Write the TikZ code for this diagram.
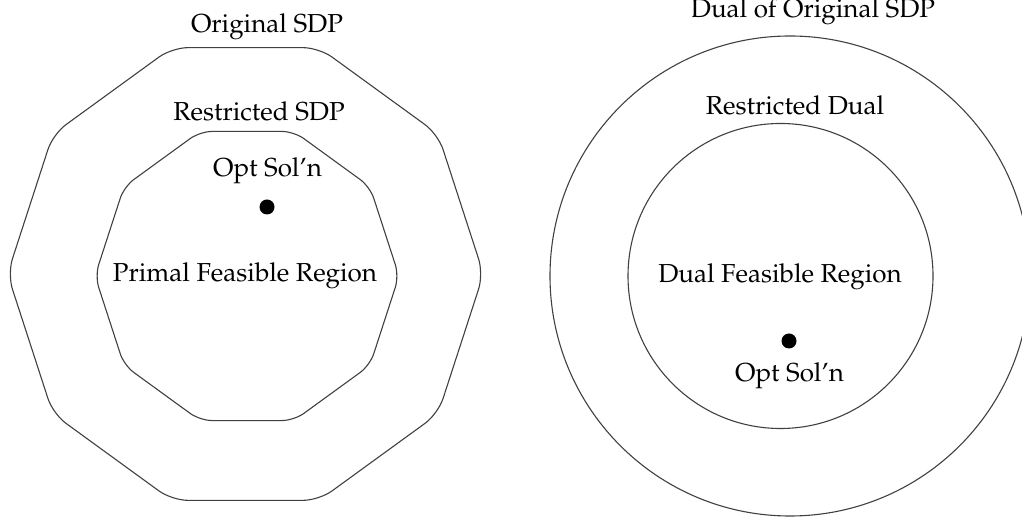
\documentclass[tikz,border=0pt]{standalone}
\usepackage[T1]{fontenc}
\usepackage{mathpazo}
\usetikzlibrary{shapes.geometric}
\begin{document}
\begin{tikzpicture}[x=0.5pt,y=-0.5pt,
  region/.style={draw=black!75, line width=0.55pt, inner sep=0pt, outer sep=0pt},
  decagon/.style={region, regular polygon, regular polygon sides=10},
  lbl/.style={font=\fontsize{13}{15}\selectfont, inner sep=0pt, anchor=base},
  optdot/.style={circle, fill=black, inner sep=0pt, minimum size=7.5pt}]
\useasboundingbox (0,0) rectangle (1022,522);

% primal side: nested decagons
\node[decagon, minimum size=238pt, rounded corners=8pt] (origsdp) at (245.5,274) {};
\node[decagon, minimum size=152pt, rounded corners=6pt] (restsdp) at (247,276) {};
\node[lbl] (origsdplbl) at (267,33) {Original SDP};
\node[lbl] (restsdplbl) at (259,121) {Restricted SDP};
\node[lbl] (primopt) at (267.5,177) {Opt Sol\textquoteright n};
\node[optdot] (primdot) at (267,207) {};
\node[lbl] (primreg) at (245,282) {Primal Feasible Region};

% dual side: nested circles
\node[region, circle, minimum size=240pt] (dualsdp) at (790,276) {};
\node[region, circle, minimum size=152.5pt] (restdual) at (780.5,276) {};
\node[lbl] (dualsdplbl) at (813,18) {Dual of Original SDP};
\node[lbl] (restduallbl) at (795,115) {Restricted Dual};
\node[lbl] (dualreg) at (780,283) {Dual Feasible Region};
\node[optdot] (dualdot) at (789,341) {};
\node[lbl] (dualopt) at (789.5,382) {Opt Sol\textquoteright n};
\end{tikzpicture}
\end{document}
